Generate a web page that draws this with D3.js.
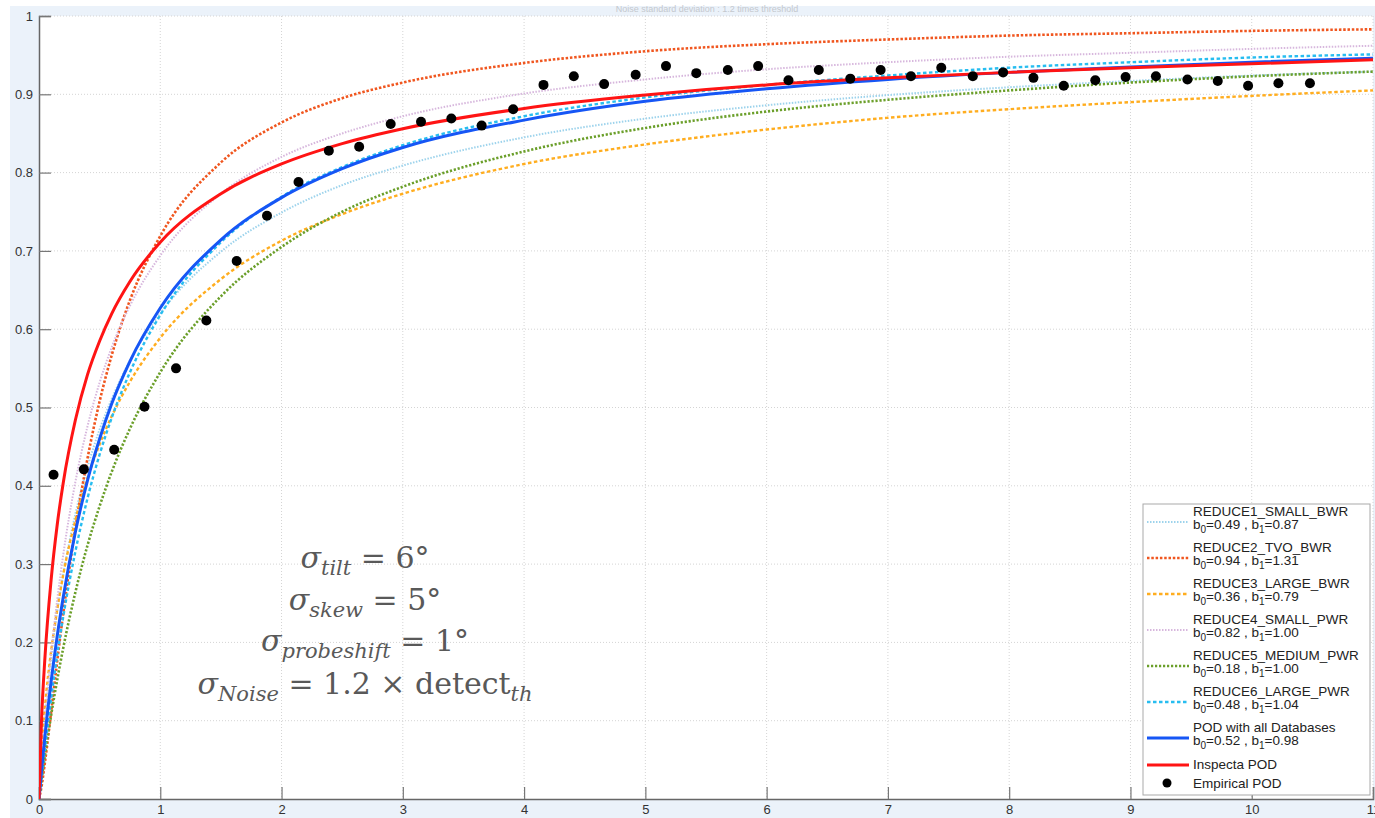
<!doctype html>
<meta charset="utf-8">
<script src="https://d3js.org/d3.v7.min.js"></script>
<style>
body { margin: 0; background: #fff; }
svg { display: block; font-family: "Liberation Sans", Arial, sans-serif; }
</style>
<body>
<script>

var width = 1375;
var height = 818;

// axis ticks
var xTicks = [0, 1, 2, 3, 4, 5, 6, 7, 8, 9, 10, 11];
var yTicks = [0, 0.1, 0.2, 0.3, 0.4, 0.5, 0.6, 0.7, 0.8, 0.9, 1];

// x positions where the fitted curves were read
var curveX = [0, 0.02, 0.05, 0.1, 0.15, 0.2, 0.3, 0.4, 0.5, 0.6, 0.75, 1, 1.5, 2, 2.5, 3, 4, 5, 6, 7, 8, 9, 10, 11];

var reduce1 = [0, 0.052, 0.107, 0.180, 0.239, 0.287, 0.364, 0.424, 0.472, 0.511, 0.560, 0.620, 0.699, 0.749, 0.784, 0.809, 0.845, 0.869, 0.886, 0.899, 0.909, 0.917, 0.924, 0.929];
var reduce2 = [0, 0.015, 0.048, 0.111, 0.176, 0.237, 0.346, 0.435, 0.508, 0.567, 0.637, 0.719, 0.813, 0.864, 0.895, 0.915, 0.940, 0.955, 0.964, 0.970, 0.975, 0.978, 0.981, 0.983];
var reduce3 = [0, 0.061, 0.119, 0.189, 0.242, 0.287, 0.356, 0.410, 0.453, 0.489, 0.533, 0.589, 0.664, 0.713, 0.747, 0.773, 0.811, 0.836, 0.855, 0.870, 0.881, 0.890, 0.898, 0.905];
var reduce4 = [0, 0.043, 0.102, 0.185, 0.254, 0.312, 0.405, 0.476, 0.532, 0.577, 0.630, 0.694, 0.773, 0.820, 0.850, 0.872, 0.901, 0.919, 0.932, 0.941, 0.948, 0.953, 0.958, 0.962];
var reduce5 = [0, 0.023, 0.057, 0.107, 0.152, 0.193, 0.264, 0.324, 0.374, 0.418, 0.473, 0.545, 0.642, 0.705, 0.750, 0.782, 0.827, 0.857, 0.878, 0.893, 0.905, 0.915, 0.923, 0.929];
var reduce6 = [0, 0.027, 0.067, 0.128, 0.184, 0.233, 0.316, 0.384, 0.440, 0.487, 0.545, 0.618, 0.711, 0.769, 0.807, 0.835, 0.872, 0.896, 0.912, 0.924, 0.934, 0.941, 0.947, 0.951];
var podAll = [0, 0.035, 0.082, 0.150, 0.208, 0.258, 0.341, 0.407, 0.460, 0.505, 0.559, 0.627, 0.714, 0.768, 0.805, 0.832, 0.867, 0.891, 0.907, 0.919, 0.928, 0.935, 0.941, 0.946];
var inspecta = [0, 0.097, 0.183, 0.280, 0.350, 0.404, 0.484, 0.542, 0.585, 0.620, 0.661, 0.711, 0.773, 0.811, 0.837, 0.856, 0.882, 0.899, 0.912, 0.921, 0.928, 0.934, 0.939, 0.944];

// empirical POD points
var empX = [0.12, 0.37, 0.62, 0.87, 1.13, 1.38, 1.63, 1.88, 2.14, 2.39, 2.64, 2.90, 3.15, 3.40, 3.65, 3.91, 4.16, 4.41, 4.66, 4.92, 5.17,
            5.42, 5.68, 5.93, 6.18, 6.43, 6.69, 6.94, 7.19, 7.44, 7.70, 7.95, 8.20, 8.45, 8.71, 8.96, 9.21, 9.47, 9.72, 9.97, 10.22, 10.48];
var empY = [0.414, 0.421, 0.446, 0.501, 0.550, 0.611, 0.687, 0.745, 0.788, 0.828, 0.833, 0.862, 0.865, 0.869, 0.860, 0.881, 0.912, 0.923, 0.913, 0.925, 0.936,
            0.927, 0.931, 0.936, 0.918, 0.931, 0.920, 0.931, 0.923, 0.934, 0.923, 0.928, 0.921, 0.911, 0.918, 0.922, 0.923, 0.919, 0.917, 0.911, 0.914, 0.914];

var seriesNames = ["REDUCE1_SMALL_BWR", "REDUCE2_TVO_BWR", "REDUCE3_LARGE_BWR", "REDUCE4_SMALL_PWR",
                   "REDUCE5_MEDIUM_PWR", "REDUCE6_LARGE_PWR", "POD with all Databases", "Inspecta POD"];
var b0Labels = ["0.49", "0.94", "0.36", "0.82", "0.18", "0.48", "0.52", null];
var b1Labels = ["0.87", "1.31", "0.79", "1.00", "1.00", "1.04", "0.98", null];
var seriesValues = [reduce1, reduce2, reduce3, reduce4, reduce5, reduce6, podAll, inspecta];

var styles = [
    {color: "#9dd3ec", w: 2, dash: "1.5,1.5"},
    {color: "#f0561f", w: 2.6, dash: "2.5,1.8"},
    {color: "#ffad1f", w: 2.4, dash: "3.5,2.5"},
    {color: "#d7b7dd", w: 2, dash: "1.5,1.5"},
    {color: "#6b9f2a", w: 2.6, dash: "2.2,1.8"},
    {color: "#27bdf0", w: 2.4, dash: "3.5,2.5"},
    {color: "#1656f5", w: 3, dash: null},
    {color: "#ff1414", w: 3, dash: null}
];

var plot = {left: 39, right: 1373, top: 16, bottom: 799};

var svg = d3.select("body")
        .append("svg")
        .attr("width", width)
        .attr("height", height);

// figure background
svg.append("rect")
        .attr("x", 10)
        .attr("y", 6)
        .attr("width", width - 10)
        .attr("height", height - 6)
        .attr("fill", "#ebf2fa");

svg.append("text")
        .attr("x", 707)
        .attr("y", 12)
        .attr("text-anchor", "middle")
        .attr("font-size", 9)
        .attr("fill", "#c4c8ce")
        .text("Noise standard deviation : 1.2 times threshold");

svg.append("rect")
        .attr("x", plot.left)
        .attr("y", plot.top)
        .attr("width", plot.right - plot.left)
        .attr("height", plot.bottom - plot.top)
        .attr("fill", "#fff");

var x = d3.scaleLinear().domain([0, 11]).range([plot.left, plot.right]);
var y = d3.scaleLinear().domain([0, 1]).range([plot.bottom, plot.top]);

// grid
svg.append("g")
        .selectAll("line")
        .data(xTicks.slice(1))
        .enter()
        .append("line")
        .attr("x1", function(d){ return x(d); })
        .attr("x2", function(d){ return x(d); })
        .attr("y1", plot.top)
        .attr("y2", plot.bottom)
        .attr("stroke", "#d4d4d4")
        .attr("stroke-dasharray", "1,2");

svg.append("g")
        .selectAll("line")
        .data(yTicks.slice(1))
        .enter()
        .append("line")
        .attr("x1", plot.left)
        .attr("x2", plot.right)
        .attr("y1", function(d){ return y(d); })
        .attr("y2", function(d){ return y(d); })
        .attr("stroke", "#d4d4d4")
        .attr("stroke-dasharray", "1,2");

// axes
var xAxis = svg.append("g")
        .attr("transform", "translate(0," + plot.bottom + ")")
        .call(d3.axisBottom(x).tickValues(xTicks).tickSize(-12).tickPadding(11).tickFormat(d3.format("d")));

var yAxis = svg.append("g")
        .attr("transform", "translate(" + plot.left + ",0)")
        .call(d3.axisLeft(y).tickValues(yTicks).tickSize(-12).tickPadding(6).tickFormat(function(d){ return d === 0 || d === 1 ? d : d.toFixed(1); }));

[xAxis, yAxis].forEach(function(ax){
    ax.select(".domain").attr("stroke", "#666").attr("stroke-width", 1.5);
    ax.selectAll(".tick line").attr("stroke", "#777").attr("stroke-width", 1.2);
    ax.selectAll(".tick text")
            .attr("fill", "#333")
            .attr("font-size", 13)
            .attr("font-family", "Liberation Sans, Arial, sans-serif");
});
xAxis.selectAll(".tick text").attr("dy", "0.3em");

// annotation
var ann = svg.append("g")
        .attr("fill", "#595959")
        .attr("font-family", "DejaVu Serif, serif")
        .attr("text-anchor", "middle");

var annLines = [
    {sub: "tilt", rest: " = 6°", y: 568},
    {sub: "skew", rest: " = 5°", y: 610},
    {sub: "probeshift", rest: " = 1°", y: 651},
    {sub: "Noise", rest: " = 1.2 × detect", tail: "th", y: 694}
];

annLines.forEach(function(l){
    var t = ann.append("text").attr("x", 365).attr("y", l.y).attr("font-size", 30);
    t.append("tspan").attr("font-style", "italic").text("σ");
    t.append("tspan").attr("font-style", "italic").attr("font-size", 21).attr("dy", 7).text(l.sub);
    t.append("tspan").attr("dy", -7).text(l.rest);
    if (l.tail) {
        t.append("tspan").attr("font-style", "italic").attr("font-size", 21).attr("dy", 7).text(l.tail);
    }
});

// curves
svg.append("clipPath")
        .attr("id", "clip")
        .append("rect")
        .attr("x", plot.left)
        .attr("y", plot.top - 2)
        .attr("width", plot.right - plot.left)
        .attr("height", plot.bottom - plot.top + 2);

var line = d3.line()
        .x(function(d){ return x(d[0]); })
        .y(function(d){ return y(d[1]); })
        .curve(d3.curveMonotoneX);

var curves = svg.append("g").attr("clip-path", "url(#clip)");

seriesValues.forEach(function(vals, i){
    var pts = curveX.map(function(xv, j){ return [xv, vals[j]]; });
    curves.append("path")
            .attr("d", line(pts))
            .attr("fill", "none")
            .attr("stroke", styles[i].color)
            .attr("stroke-width", styles[i].w)
            .attr("stroke-dasharray", styles[i].dash);
});

svg.append("g")
        .selectAll("circle")
        .data(empX)
        .enter()
        .append("circle")
        .attr("cx", function(d){ return x(d); })
        .attr("cy", function(d, i){ return y(empY[i]); })
        .attr("r", 5)
        .attr("fill", "#000");

// legend
var legend = svg.append("g").attr("font-size", 13.5).attr("fill", "#222");

legend.append("rect")
        .attr("x", 1143)
        .attr("y", 504)
        .attr("width", 227)
        .attr("height", 291)
        .attr("fill", "#fff")
        .attr("stroke", "#a9a9a9");

seriesNames.forEach(function(name, i){
    var base = i < 7 ? 516 + 36 * i : 769;
    var lineY = i < 7 ? base + 6 : base - 4;
    legend.append("line")
            .attr("x1", 1147)
            .attr("x2", 1189)
            .attr("y1", lineY)
            .attr("y2", lineY)
            .attr("stroke", styles[i].color)
            .attr("stroke-width", styles[i].w)
            .attr("stroke-dasharray", styles[i].dash);
    legend.append("text")
            .attr("x", 1193)
            .attr("y", base)
            .text(name);
    if (b0Labels[i]) {
        var t = legend.append("text").attr("x", 1193).attr("y", base + 13);
        t.append("tspan").text("b");
        t.append("tspan").attr("font-size", 10).attr("dy", 4).text("0");
        t.append("tspan").attr("dy", -4).text("=" + b0Labels[i] + " , b");
        t.append("tspan").attr("font-size", 10).attr("dy", 4).text("1");
        t.append("tspan").attr("dy", -4).text("=" + b1Labels[i]);
    }
});

legend.append("circle")
        .attr("cx", 1167)
        .attr("cy", 783)
        .attr("r", 4.5)
        .attr("fill", "#000");

legend.append("text")
        .attr("x", 1193)
        .attr("y", 787.5)
        .text("Empirical POD");

</script>
